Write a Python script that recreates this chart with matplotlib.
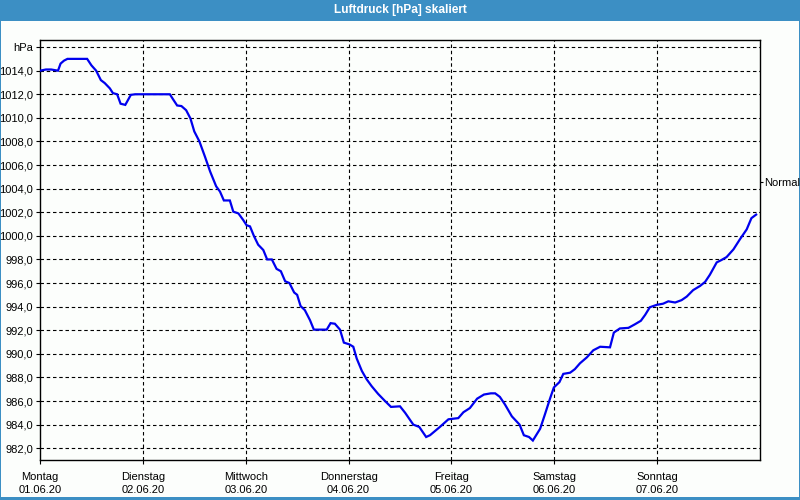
import numpy as np
import matplotlib
matplotlib.use('Agg')
import matplotlib.pyplot as plt
from matplotlib.patches import Rectangle

plt.rcParams['font.family'] = ['Liberation Sans', 'DejaVu Sans']
plt.rcParams['lines.scale_dashes'] = False

# hours since Montag 01.06.20 00:00
hours = [0, 1.4, 2.6, 4.2, 4.8, 5.6, 6.4, 11.0, 12.0, 13.1, 14.2, 15.1, 16.3, 17.0, 18.0,
         18.8, 19.9, 21.2, 22.2, 30.3, 31.0, 32.0, 33.0, 34.1, 35.1, 36.0, 37.2, 38.5,
         39.7, 41.1, 42.0, 42.9, 44.3, 45.1, 46.3, 47.4, 48.2, 49.0, 49.9, 50.9, 52.1,
         53.0, 54.1, 55.2, 56.2, 57.2, 58.2, 59.3, 60.0, 60.8, 61.8, 63.0, 63.9, 66.9,
         67.8, 68.8, 70.0, 70.9, 72.2, 73.1, 73.9, 75.1, 76.2, 77.4, 78.9, 80.5, 81.9,
         84.0, 85.2, 87.1, 88.5, 90.1, 91.0, 93.3, 95.3, 97.6, 98.8, 100.3, 102.0, 103.6,
         105.2, 106.2, 107.3, 108.5, 110.1, 111.9, 112.9, 114.1, 115.0, 116.7, 117.8,
         119.0, 119.9, 121.2, 122.1, 123.7, 124.8, 126.0, 127.6, 129.1, 130.7, 133.0,
         133.9, 135.3, 137.3, 138.8, 140.2, 141.2, 142.3, 143.9, 145.4, 146.6, 148.2,
         149.7, 150.9, 152.4, 154.0, 155.2, 156.3, 157.9, 159.0, 160.2, 161.8, 163.3,
         164.9, 166.0, 167.1]
pressure = [1014.0, 1014.1, 1014.1, 1014.0, 1014.6, 1014.85, 1015.0, 1015.0, 1014.45, 1014.0,
            1013.2, 1012.95, 1012.5, 1012.1, 1012.0, 1011.2, 1011.1, 1011.95, 1012.0, 1012.0,
            1011.6, 1011.05, 1011.0, 1010.65, 1009.95, 1008.85, 1008.0, 1006.7, 1005.45,
            1004.2, 1003.75, 1003.0, 1003.0, 1002.05, 1001.9, 1001.35, 1000.9, 1000.8,
            1000.0, 999.25, 998.8, 998.0, 998.0, 997.2, 997.0, 996.15, 996.0, 995.2, 995.0,
            994.05, 993.7, 992.85, 992.05, 992.05, 992.6, 992.55, 992.05, 990.95, 990.8,
            990.6, 989.6, 988.55, 987.85, 987.25, 986.6, 986.0, 985.5, 985.55, 985.0, 984.0,
            983.8, 982.95, 983.1, 983.8, 984.45, 984.55, 985.05, 985.4, 986.2, 986.55,
            986.65, 986.65, 986.35, 985.7, 984.7, 984.0, 983.1, 982.95, 982.65, 983.65,
            984.85, 986.2, 987.15, 987.6, 988.3, 988.4, 988.7, 989.2, 989.7, 990.3, 990.6,
            990.55, 991.8, 992.15, 992.2, 992.5, 992.8, 993.3, 993.95, 994.15, 994.25,
            994.45, 994.35, 994.55, 994.85, 995.4, 995.75, 996.1, 996.7, 997.75, 997.95,
            998.2, 998.85, 999.7, 1000.55, 1001.5, 1001.8]

days = ['Montag', 'Dienstag', 'Mittwoch', 'Donnerstag', 'Freitag', 'Samstag', 'Sonntag']
dates = ['01.06.20', '02.06.20', '03.06.20', '04.06.20', '05.06.20', '06.06.20', '07.06.20']
normal = 1004.55
title = 'Luftdruck [hPa] skaliert'

blue = '#3c8fc4'
bg = '#fcfefc'

fig = plt.figure(figsize=(8, 5), dpi=100, facecolor=blue)
# white window body inside the blue frame
fig.add_artist(Rectangle((1/800, 3/500), 798/800, 476/500, transform=fig.transFigure,
                         facecolor=bg, edgecolor='none', zorder=0))
fig.text(0.5, 1 - 10/500, title, color='white', fontweight='bold', fontsize=8.6,
         ha='center', va='center')

ax = fig.add_axes([40/800, 40/500, 720/800, 420/500])
ax.set_facecolor(bg)
ax.plot(hours, pressure, color='#0000ee', lw=1.6, solid_joinstyle='miter', zorder=3)

ax.set_xlim(0, 168)
ax.set_ylim(981.0, 1016.6)

yt = np.arange(982, 1017, 2)
ax.set_yticks(yt)
ax.set_yticklabels([('%.1f' % v).replace('.', ',') for v in yt[:-1]] + ['hPa'])
xt = np.arange(0, 168, 24)
ax.set_xticks(xt)
ax.set_xticklabels([d + '\n' + t for d, t in zip(days, dates)], linespacing=1.3)

ax.tick_params(axis='both', labelsize=8, length=3, width=0.8, color='black')
ax.tick_params(axis='y', pad=2)
ax.tick_params(axis='x', pad=6)

for v in yt:
    ax.axhline(v, color='black', lw=0.8, ls=(0, (2.5, 2)), zorder=1)
for h in xt[1:]:
    ax.axvline(h, color='black', lw=0.8, ls=(0, (2.5, 2)), zorder=1)

for s in ax.spines.values():
    s.set_linewidth(1.0)
    s.set_color('black')

# "Normal" marker on the right side
ax2 = ax.twinx()
ax2.set_ylim(ax.get_ylim())
ax2.set_yticks([normal])
ax2.set_yticklabels(['Normal'])
ax2.tick_params(axis='y', labelsize=8, length=2, width=0.8, pad=1)
for s in ax2.spines.values():
    s.set_visible(False)

fig.savefig('out.png', dpi=100, facecolor=blue)
